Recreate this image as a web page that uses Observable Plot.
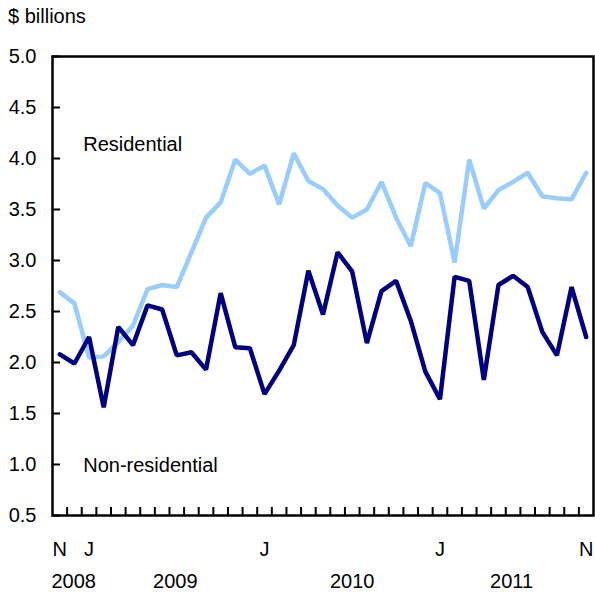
<!DOCTYPE html>
<html><head><meta charset="utf-8">
<script src="https://cdn.jsdelivr.net/npm/d3@7"></script>
<script src="https://cdn.jsdelivr.net/npm/@observablehq/plot@0.6"></script>
<style>
body{margin:0;background:#fff;}
#chart{position:relative;width:595px;height:592px;font-family:"Liberation Sans",Arial,Helvetica,sans-serif;}
#unit{position:absolute;left:8px;top:5px;font-size:20px;color:#000;z-index:2;}
#chart svg{position:absolute;left:0;top:0;z-index:1;}
</style></head><body>
<div id="chart"><div id="unit">$ billions</div></div>
<script>
// Monthly values, Nov 2008 .. Nov 2011 (37 months)
const residential = [2.69, 2.58, 2.05, 2.06, 2.20, 2.36, 2.72, 2.76, 2.74, 3.08, 3.42, 3.57,
  3.99, 3.85, 3.93, 3.55, 4.05, 3.78, 3.70, 3.54, 3.42, 3.50, 3.77, 3.42, 3.14, 3.76,
  3.66, 2.98, 3.99, 3.51, 3.69, 3.77, 3.86, 3.63, 3.61, 3.60, 3.86];
const nonResidential = [2.08, 1.99, 2.25, 1.56, 2.35, 2.17, 2.56, 2.52, 2.07, 2.10, 1.93, 2.68,
  2.15, 2.14, 1.69, 1.92, 2.17, 2.90, 2.47, 3.08, 2.89, 2.19, 2.70, 2.80, 2.41, 1.91,
  1.64, 2.84, 2.80, 1.83, 2.76, 2.85, 2.74, 2.30, 2.07, 2.74, 2.25];
const monthTicks = [0, 2, 14, 26, 36];
const monthTickLabels = ["N", "J", "J", "J", "N"];
const years = ["2008", "2009", "2010", "2011"];
const yearPos = [0.95, 7.9, 20, 30.9];
const yTicks = [0.5, 1.0, 1.5, 2.0, 2.5, 3.0, 3.5, 4.0, 4.5, 5.0];
const seriesLabels = ["Residential", "Non-residential"];
const seriesLabelX = [1.6, 1.6];
const seriesLabelY = [4.14, 0.99];

const resData = residential.map((v, i) => ({i, v}));
const nonData = nonResidential.map((v, i) => ({i, v}));
const boundaries = d3.range(36).map(i => i + 0.5);
const labelData = seriesLabels.map((t, k) => ({t, x: seriesLabelX[k], y: seriesLabelY[k]}));
const yearData = years.map((t, k) => ({t, x: yearPos[k]}));

const plot = Plot.plot({
  width: 595,
  height: 592,
  marginLeft: 52,
  marginRight: 2,
  marginTop: 56,
  marginBottom: 77,
  style: {fontFamily: '"Liberation Sans", Arial, Helvetica, sans-serif', fontSize: "20px", color: "#000", background: "transparent"},
  x: {type: "linear", domain: [-0.5, 36.5]},
  y: {domain: [0.5, 5.0]},
  marks: [
    Plot.axisY(yTicks, {tickSize: 0, tickPadding: 16, tickFormat: d => d.toFixed(1), fontSize: 20, label: null}),
    Plot.axisY(yTicks, {tickSize: -8, tickFormat: () => "", strokeWidth: 2, label: null}),
    Plot.axisX(monthTicks, {tickSize: 0, tickPadding: 26, tickFormat: d => monthTickLabels[monthTicks.indexOf(d)], fontSize: 20, label: null}),
    Plot.axisX(boundaries, {tickSize: -8, tickFormat: () => "", strokeWidth: 2, label: null}),
    Plot.line(resData, {x: "i", y: "v", stroke: "#99ccff", strokeWidth: 4.5, strokeLinejoin: "miter"}),
    Plot.line(nonData, {x: "i", y: "v", stroke: "#000080", strokeWidth: 4.5, strokeLinejoin: "miter"}),
    Plot.frame({stroke: "#000", strokeWidth: 2.5}),
    Plot.text(labelData, {x: "x", y: "y", text: "t", textAnchor: "start", lineAnchor: "middle", fontSize: 20, fill: "#000"}),
    Plot.text(yearData, {x: "x", text: "t", frameAnchor: "bottom", dy: 66, lineAnchor: "middle", fontSize: 20, fill: "#000"})
  ]
});
document.getElementById("chart").appendChild(plot);
</script>
</body></html>
